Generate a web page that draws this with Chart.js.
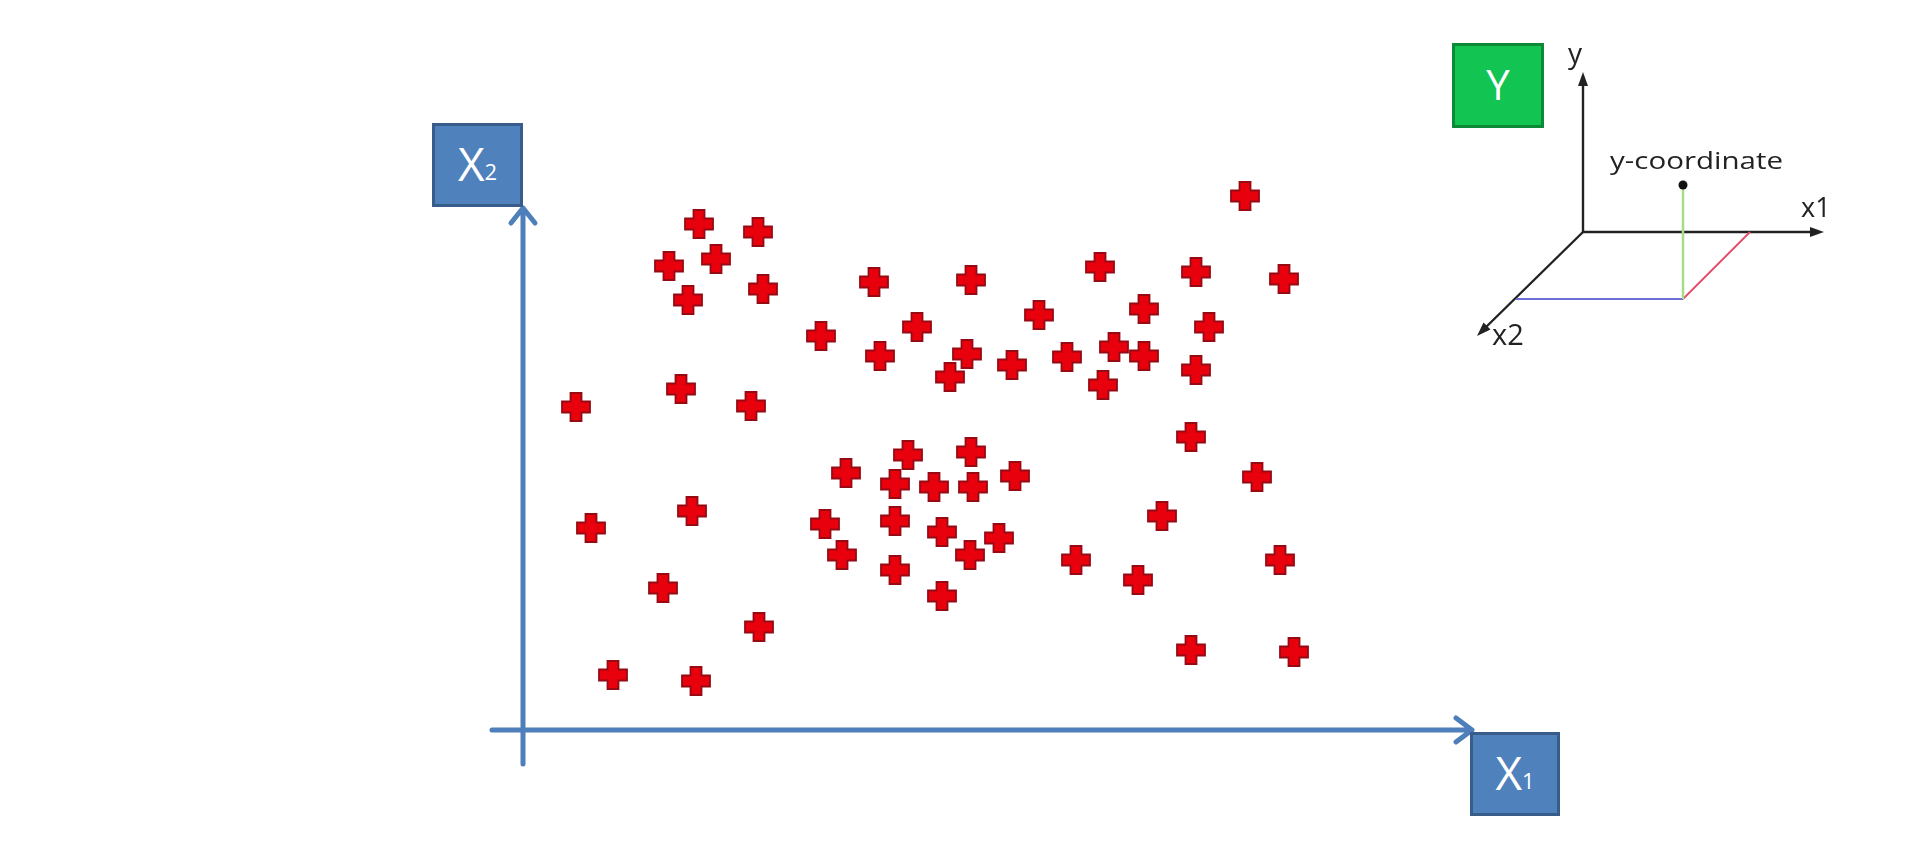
<!DOCTYPE html>
<html>
<head>
<meta charset="utf-8">
<title>X1 / X2 scatter</title>
<script src="https://cdn.jsdelivr.net/npm/chart.js@4/dist/chart.umd.min.js"></script>
<style>
  html, body { margin: 0; padding: 0; background: #fff; }
  #wrap { position: relative; width: 1920px; height: 841px; overflow: hidden; }
  #plot { position: absolute; left: 0; top: 0; }
  .box {
    position: absolute; box-sizing: border-box; color: #fff;
    font-family: 'Open Sans', sans-serif; display: flex;
    align-items: center; justify-content: center; line-height: 1;
  }
  .box .sub { font-size: 22px; }
  .blue { background: #4f81bd; border: 3px solid #385d8a; font-size: 46px; }
  .green { background: #12c451; border: 3px solid #0d8a36; font-size: 42px; }
  #inset { position: absolute; left: 0; top: 0; }
  #inset text { font-family: 'Open Sans', sans-serif; fill: #222; }
</style>
</head>
<body>
<div id="wrap">
  <canvas id="plot" width="1920" height="841"></canvas>

  <div class="box blue" style="left:432px; top:123px; width:91px; height:84px; padding-bottom:4px;">X<span class="sub" style="margin-top:16px;">2</span></div>
  <div class="box blue" style="left:1470px; top:732px; width:90px; height:84px; padding-bottom:4px;">X<span class="sub" style="margin-top:16px;">1</span></div>
  <div class="box green" style="left:1452px; top:43px; width:92px; height:85px; padding-bottom:4px;">Y</div>

  <svg id="inset" width="1920" height="841">
    <g stroke="#222" stroke-width="2.4" fill="none">
      <line x1="1583" y1="232" x2="1583" y2="82"/>
      <line x1="1583" y1="232" x2="1814" y2="232"/>
      <line x1="1583" y1="232" x2="1484" y2="329"/>
    </g>
    <g fill="#222">
      <polygon points="1583,72 1578,86 1588,86"/>
      <polygon points="1824,232 1810,227 1810,237"/>
      <polygon points="1477,336 1483.5,322.5 1490.5,329.5"/>
    </g>
    <line x1="1516" y1="299" x2="1683" y2="299" stroke="#6d6fd6" stroke-width="2"/>
    <line x1="1683" y1="299" x2="1750" y2="232" stroke="#e5506d" stroke-width="2"/>
    <line x1="1683" y1="186" x2="1683" y2="299" stroke="#a4dc8c" stroke-width="2.5"/>
    <circle cx="1683" cy="185" r="4.5" fill="#111"/>
    <text x="1575" y="63" font-size="28" text-anchor="middle">y</text>
    <text x="1610" y="169" font-size="23.5" textLength="173" lengthAdjust="spacingAndGlyphs">y-coordinate</text>
    <text x="1801" y="217" font-size="27">x1</text>
    <text x="1492" y="345" font-size="29">x2</text>
  </svg>
</div>

<script>
// values (arbitrary units, origin at the axes corner)
const x1Values = [
  17.6, 23.5, 14.6, 19.3, 24.0, 16.5, 35.1, 44.8, 29.8, 39.4,
  35.7, 44.4, 42.7, 5.3, 15.8, 22.8, 72.2, 57.7, 67.3, 76.1,
  51.6, 62.1, 68.6, 48.9, 54.4, 59.1, 62.1, 58.0, 67.3, 66.8,
  44.8, 38.5, 32.3, 37.2, 41.1, 45.0, 16.9, 6.8, 30.2, 37.2,
  41.9, 44.7, 31.9, 37.2, 41.9, 14.0, 23.6, 9.0, 17.3, 49.2,
  73.4, 63.9, 47.6, 55.3, 61.5, 75.7, 66.8, 77.1
];
const x2Values = [
  50.6, 49.8, 46.4, 47.1, 44.1, 43.0, 44.8, 45.0, 39.4, 40.3,
  37.4, 37.6, 35.3, 32.3, 34.1, 32.4, 53.4, 46.3, 45.8, 45.1,
  41.5, 42.1, 40.3, 36.5, 37.3, 38.3, 37.4, 34.5, 36.0, 29.3,
  27.8, 27.5, 25.7, 24.6, 24.3, 24.3, 21.9, 20.2, 20.6, 20.9,
  19.8, 17.5, 17.5, 16.0, 13.4, 14.2, 10.3, 5.5, 4.9, 25.4,
  25.3, 21.4, 19.2, 17.0, 15.0, 17.0, 8.0, 7.8
];
const xRange = [0, 95];
const yRange = [0, 55];

const points = x1Values.map((v, i) => ({ x: v, y: x2Values[i] }));

// red plus marker
function makePlus() {
  const c = document.createElement('canvas');
  c.width = 32; c.height = 32;
  const g = c.getContext('2d');
  const m = 16, L = 14, T = 5.5;
  g.beginPath();
  g.moveTo(m - T, m - L); g.lineTo(m + T, m - L); g.lineTo(m + T, m - T);
  g.lineTo(m + L, m - T); g.lineTo(m + L, m + T); g.lineTo(m + T, m + T);
  g.lineTo(m + T, m + L); g.lineTo(m - T, m + L); g.lineTo(m - T, m + T);
  g.lineTo(m - L, m + T); g.lineTo(m - L, m - T); g.lineTo(m - T, m - T);
  g.closePath();
  g.fillStyle = '#e8000c';
  g.fill();
  g.lineWidth = 1.8;
  g.strokeStyle = '#960a14';
  g.stroke();
  return c;
}

// blue axis arrows, drawn from the scales
const axisArrows = {
  id: 'axisArrows',
  beforeDatasetsDraw(chart) {
    const { ctx, scales } = chart;
    const ox = scales.x.getPixelForValue(0);
    const oy = scales.y.getPixelForValue(0);
    const xEnd = scales.x.getPixelForValue(94.9);
    const yEnd = scales.y.getPixelForValue(52.2);
    const xStart = scales.x.getPixelForValue(-3.1);
    const yStart = scales.y.getPixelForValue(-3.4);
    ctx.save();
    ctx.strokeStyle = '#4f7fba';
    ctx.lineWidth = 5;
    ctx.lineCap = 'round';
    ctx.lineJoin = 'round';
    ctx.beginPath();
    ctx.moveTo(xStart, oy); ctx.lineTo(xEnd, oy);
    ctx.moveTo(xEnd - 16, oy - 12); ctx.lineTo(xEnd, oy); ctx.lineTo(xEnd - 16, oy + 12);
    ctx.moveTo(ox, yStart); ctx.lineTo(ox, yEnd);
    ctx.moveTo(ox - 12, yEnd + 15); ctx.lineTo(ox, yEnd); ctx.lineTo(ox + 12, yEnd + 15);
    ctx.stroke();
    ctx.restore();
  }
};

new Chart(document.getElementById('plot').getContext('2d'), {
  type: 'scatter',
  data: {
    datasets: [{
      label: 'samples',
      data: points,
      pointStyle: makePlus(),
      pointRadius: 14,
      clip: false
    }]
  },
  options: {
    responsive: false,
    animation: false,
    devicePixelRatio: 1,
    layout: { padding: { left: 523, right: 447, top: 180, bottom: 111 } },
    scales: {
      x: { type: 'linear', min: xRange[0], max: xRange[1], display: false },
      y: { type: 'linear', min: yRange[0], max: yRange[1], display: false }
    },
    plugins: {
      legend: { display: false },
      tooltip: { enabled: false }
    }
  },
  plugins: [axisArrows]
});
</script>
</body>
</html>
